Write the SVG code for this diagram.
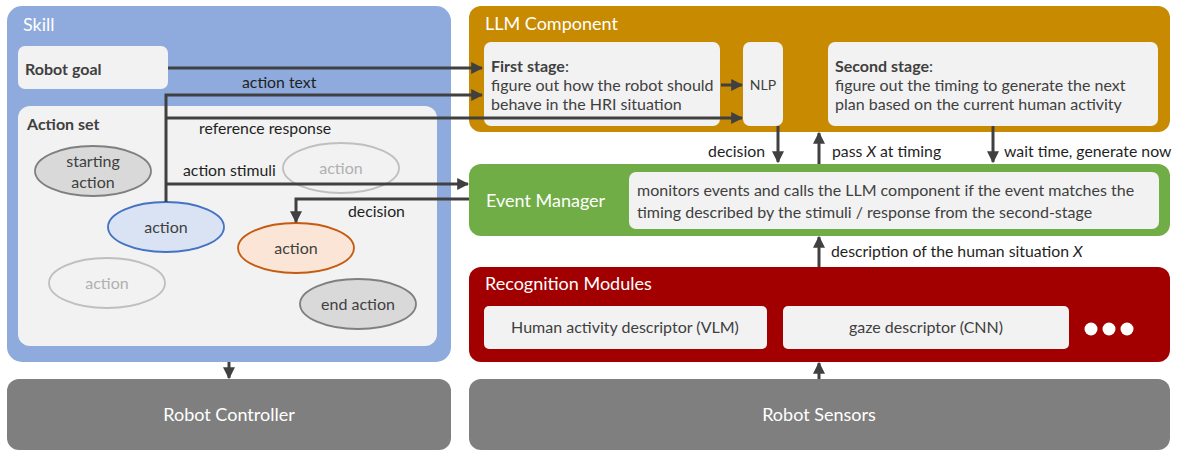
<svg xmlns="http://www.w3.org/2000/svg" width="1178" height="453" viewBox="0 0 1178 453">
<style>
text{font-family:Lato,"Open Sans","Liberation Sans",sans-serif;}
.title{fill:#fff;font-size:18px;}
.box{fill:#f2f2f2;}
.bt{fill:#404040;font-size:16px;}
.b{font-weight:bold;}
.lbl{fill:#1f1f1f;font-size:15.8px;}
.ell{stroke-width:1.8;}
.con{fill:none;stroke:#404040;stroke-width:3;}
.big{fill:#fff;font-size:18px;text-anchor:middle;}
</style>
<defs>
<marker id="ah" viewBox="0 0 10 10" refX="9" refY="5" markerWidth="4" markerHeight="4" orient="auto" markerUnits="strokeWidth">
<path d="M0,0 L10,5 L0,10 z" fill="#404040"/>
</marker>
</defs>

<g id="skill">
<rect x="7" y="6" width="444" height="356" rx="15" fill="#8faadc"/>
<text class="title" x="23" y="31">Skill</text>
</g>
<g id="robot-goal">
<rect class="box" x="18" y="46" width="150" height="43" rx="7"/>
<text class="bt b" x="25" y="75">Robot goal</text>
</g>
<g id="action-set">
<rect class="box" x="18" y="106" width="419" height="240" rx="12"/>
<text class="bt b" x="27" y="130">Action set</text>
</g>
<g id="starting-action">
<ellipse class="ell" cx="93" cy="171" rx="58" ry="25" fill="#d9d9d9" stroke="#7f7f7f"/>
<text class="bt" x="93" y="167" text-anchor="middle">starting</text>
<text class="bt" x="93" y="188" text-anchor="middle">action</text>
</g>
<g id="action-gray-1">
<ellipse class="ell" cx="341" cy="168" rx="58" ry="25" fill="#f2f2f2" stroke="#bfbfbf"/>
<text class="bt" x="341" y="174" text-anchor="middle" style="fill:#b0b0b0">action</text>
</g>
<g id="action-blue">
<ellipse class="ell" cx="166" cy="227" rx="58" ry="25" fill="#dae3f3" stroke="#4472c4"/>
<text class="bt" x="166" y="233" text-anchor="middle">action</text>
</g>
<g id="action-orange">
<ellipse class="ell" cx="296" cy="248" rx="58" ry="25" fill="#fbe5d6" stroke="#c55a11"/>
<text class="bt" x="296" y="254" text-anchor="middle">action</text>
</g>
<g id="action-gray-2">
<ellipse class="ell" cx="107" cy="283" rx="58" ry="25" fill="#f2f2f2" stroke="#bfbfbf"/>
<text class="bt" x="107" y="289" text-anchor="middle" style="fill:#b0b0b0">action</text>
</g>
<g id="end-action">
<ellipse class="ell" cx="358" cy="304" rx="58" ry="25" fill="#d9d9d9" stroke="#7f7f7f"/>
<text class="bt" x="358" y="310" text-anchor="middle">end action</text>
</g>

<g id="robot-controller">
<rect x="7" y="379" width="444" height="71" rx="12" fill="#7f7f7f"/>
<text class="big" x="229" y="421">Robot Controller</text>
</g>

<g id="llm">
<rect x="469" y="6" width="701" height="126" rx="12" fill="#c78a00"/>
<text class="title" x="485" y="30">LLM Component</text>
</g>
<g id="first-stage">
<rect class="box" x="484" y="42" width="236" height="84" rx="7"/>
<text class="bt" x="491" y="72"><tspan class="b">First stage</tspan>:</text>
<text class="bt" x="491" y="91">figure out how the robot should</text>
<text class="bt" x="491" y="110">behave in the HRI situation</text>
</g>
<g id="nlp">
<rect class="box" x="743" y="42" width="40" height="84" rx="7"/>
<text class="bt" x="763" y="90" text-anchor="middle" style="font-size:14px">NLP</text>
</g>
<g id="second-stage">
<rect class="box" x="828" y="42" width="330" height="84" rx="7"/>
<text class="bt" x="835" y="72"><tspan class="b">Second stage</tspan>:</text>
<text class="bt" x="835" y="91">figure out the timing to generate the next</text>
<text class="bt" x="835" y="110">plan based on the current human activity</text>
</g>

<g id="event-manager">
<rect x="469" y="164" width="701" height="72" rx="12" fill="#70ad47"/>
<text x="486" y="207" style="fill:#fff;font-size:18px">Event Manager</text>
<rect class="box" x="629" y="172" width="530" height="57" rx="7"/>
<text class="bt" x="637" y="196">monitors events and calls the LLM component if the event matches the</text>
<text class="bt" x="637" y="218">timing described by the stimuli / response from the second-stage</text>
</g>

<g id="recognition">
<rect x="469" y="267" width="701" height="95" rx="12" fill="#a20000"/>
<text class="title" x="485" y="290">Recognition Modules</text>
<rect class="box" x="484" y="306" width="283" height="43" rx="5"/>
<text class="bt" x="625" y="333" text-anchor="middle">Human activity descriptor (VLM)</text>
<rect class="box" x="783" y="306" width="286" height="43" rx="5"/>
<text class="bt" x="926" y="333" text-anchor="middle">gaze descriptor (CNN)</text>
<circle cx="1091" cy="329" r="6.5" fill="#fff"/>
<circle cx="1109" cy="329" r="6.5" fill="#fff"/>
<circle cx="1127" cy="329" r="6.5" fill="#fff"/>
</g>

<g id="robot-sensors">
<rect x="469" y="379" width="701" height="71" rx="12" fill="#7f7f7f"/>
<text class="big" x="819" y="421">Robot Sensors</text>
</g>

<g id="connectors">
<path class="con" d="M168,68 H482" marker-end="url(#ah)"/>
<path class="con" d="M166,202 V95 H482" marker-end="url(#ah)"/>
<path class="con" d="M166,118 H742" marker-end="url(#ah)"/>
<path class="con" d="M166,184 H468" marker-end="url(#ah)"/>
<path class="con" d="M469,199 H296 V222" marker-end="url(#ah)"/>
<path class="con" d="M721,85 H742" marker-end="url(#ah)"/>
<path class="con" d="M778,126 V162" marker-end="url(#ah)"/>
<path class="con" d="M819,164 V133" marker-end="url(#ah)"/>
<path class="con" d="M993,126 V162" marker-end="url(#ah)"/>
<path class="con" d="M819,267 V237" marker-end="url(#ah)"/>
<path class="con" d="M819,379 V363" marker-end="url(#ah)"/>
<path class="con" d="M229,362 V378" marker-end="url(#ah)"/>
<text class="lbl" x="242" y="88">action text</text>
<text class="lbl" x="199" y="134">reference response</text>
<text class="lbl" x="183" y="176">action stimuli</text>
<text class="lbl" x="348" y="217">decision</text>
<text class="lbl" x="765" y="157" text-anchor="end">decision</text>
<text class="lbl" x="832" y="157">pass <tspan font-style="italic">X</tspan> at timing</text>
<text class="lbl" x="1004" y="157">wait time, generate now</text>
<text class="lbl" x="831" y="257">description of the human situation <tspan font-style="italic">X</tspan></text>
</g>
</svg>
